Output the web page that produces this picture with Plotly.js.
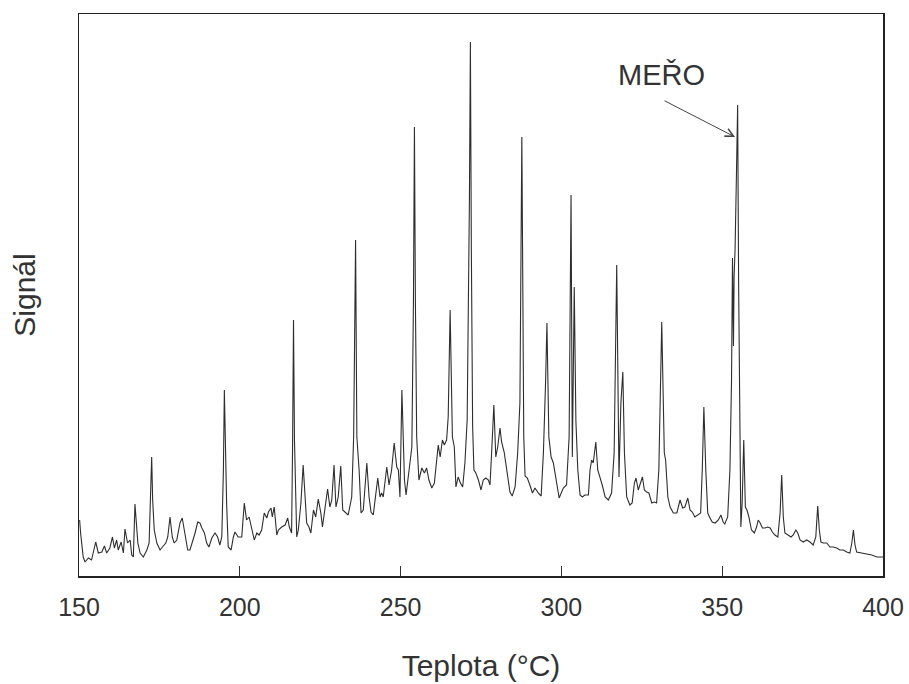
<!DOCTYPE html>
<html>
<head>
<meta charset="utf-8">
<script src="https://cdn.plot.ly/plotly-3.0.1.min.js"></script>
<style>html,body{margin:0;padding:0;background:#fff;}#chart{width:909px;height:684px;}</style>
</head>
<body>
<div id="chart"></div>
<script>
// Temperature (°C)
const temperature = [
150.2,150.5,151.3,151.9,152.9,153.9,155.2,156.0,157.1,157.9,158.6,159.6,160.4,161.0,161.7,162.2,163.1,163.8,164.3,165.1,
165.9,166.4,166.9,167.4,168.3,169.0,170.0,171.1,171.8,172.3,172.6,172.9,173.4,174.2,175.2,176.2,177.0,177.6,178.3,179.0,
179.6,180.4,181.4,182.1,183.0,183.8,184.5,185.2,186.1,186.9,187.6,188.2,189.0,189.7,190.4,191.3,192.3,193.1,193.8,194.4,
194.9,195.2,195.5,195.9,196.4,197.3,198.0,198.5,199.5,200.6,201.4,202.1,202.9,203.7,204.5,205.3,206.0,206.8,207.6,208.4,
208.9,209.7,210.1,210.7,211.5,212.0,213.0,214.1,214.9,215.4,216.1,216.4,216.7,217.0,217.7,218.2,219.0,219.7,220.3,220.8,
221.5,222.1,222.9,223.6,224.4,225.2,225.7,226.5,227.3,228.0,228.6,229.3,229.9,230.6,231.4,232.0,232.7,233.7,234.8,235.4,
236.0,236.4,237.1,237.7,238.4,239.5,240.2,240.8,241.5,242.0,242.9,243.6,244.1,244.6,245.7,246.4,247.2,248.0,248.8,249.3,
249.8,250.4,251.2,251.7,252.4,253.5,254.0,254.3,254.6,255.0,255.7,256.6,257.4,258.1,258.8,259.7,260.5,261.2,261.7,262.3,
263.0,263.6,264.3,264.8,265.4,266.1,266.7,267.2,267.9,268.6,269.3,270.0,270.7,271.4,271.7,272.0,272.4,272.8,273.4,274.2,
275.0,275.7,276.5,277.3,277.8,278.3,279.0,279.6,280.2,280.9,281.4,282.2,283.0,284.0,284.7,285.6,286.4,287.1,287.7,288.3,
288.7,289.4,290.2,291.0,291.8,292.8,293.7,294.4,295.1,295.5,296.1,296.8,297.5,298.2,299.3,300.6,301.6,302.4,303.0,303.4,
304.0,304.5,305.1,305.8,306.5,307.3,308.4,308.9,309.4,309.9,310.7,311.3,312.0,312.7,313.6,314.6,315.6,316.4,317.2,317.9,
318.5,319.1,319.6,320.3,321.3,322.0,322.7,323.2,323.9,324.5,325.2,325.8,326.5,327.2,328.1,328.9,329.6,330.3,331.2,332.0,
332.4,333.1,333.8,334.8,335.9,336.9,337.7,338.4,339.3,340.0,340.7,341.5,342.6,343.3,343.8,344.3,344.9,345.5,346.2,346.9,
347.8,348.8,349.6,350.3,350.8,351.7,352.4,352.9,353.2,353.5,353.7,354.0,354.4,354.8,355.1,355.4,355.8,356.2,356.7,357.2,357.7,
358.3,359.1,360.0,360.7,361.2,361.8,362.5,363.3,364.1,364.9,365.6,366.4,367.3,368.0,368.5,369.0,369.5,370.4,371.4,372.1,
372.9,373.5,374.2,375.2,376.3,377.3,378.3,379.1,379.7,380.2,380.7,381.4,382.5,383.5,384.5,385.6,386.6,387.7,388.7,389.7,
390.3,390.8,391.3,391.8,393.4,394.9,396.5,398.1,399.6,400.0
];

// Detector signal (arbitrary units)
const signal = [
56,43,19,14,18,16,34,23,24,30,23,28,39,28,36,26,34,23,47,33,
36,21,19,72,33,23,19,26,33,76,119,76,46,33,26,30,33,39,59,39,
33,36,53,58,39,26,26,33,43,54,53,48,43,33,29,38,43,39,31,39,
106,186,116,73,29,26,39,44,39,39,73,56,59,46,36,43,41,46,63,58,
64,68,59,69,41,46,49,51,58,49,43,126,256,136,39,46,73,111,73,53,
49,43,66,59,77,63,49,66,87,69,76,111,69,79,110,66,64,61,79,139,
336,139,106,63,66,113,79,64,61,73,98,79,83,79,109,91,106,133,109,106,
79,186,96,81,99,129,276,449,276,139,96,108,103,108,96,88,93,113,131,119,
136,131,136,159,266,139,129,89,99,93,89,113,156,376,534,326,149,106,103,96,
86,96,98,96,91,123,171,119,129,148,134,124,106,84,80,89,123,173,439,139,
100,98,91,83,88,83,80,123,196,253,139,119,113,99,78,88,91,139,381,119,
289,156,106,81,79,81,81,106,116,113,134,106,99,91,79,76,83,123,311,99,
173,204,123,79,71,73,93,98,86,93,99,86,84,83,73,74,73,106,254,123,
116,79,69,63,63,76,68,69,78,66,64,59,61,63,106,169,106,63,58,54,
53,56,61,54,52,59,106,196,318,230,300,326,396,471,296,146,49,73,136,69,66,
59,46,43,49,56,53,48,48,49,48,44,41,39,63,101,59,43,41,39,41,
46,43,36,34,36,34,31,39,70,46,34,33,33,29,29,28,26,26,24,23,
33,46,31,24,23,22,21,19,19,19
];

const xTickValues = [150, 200, 250, 300, 350, 400];
const xTickLabels = ["150", "200", "250", "300", "350", "400"];
const xTitle = "Teplota (°C)";
const yTitle = "Signál";
const peakLabel = "MEŘO";
const peakTemp = 354.0;
const peakSignal = 439;
const labelTemp = 331.0;
const labelSignal = 501;

const font = "Liberation Sans, Arial, sans-serif";

const trace = {
  x: temperature,
  y: signal,
  type: "scatter",
  mode: "lines",
  line: {color: "#2e2e2e", width: 1.1},
  hoverinfo: "x+y"
};

const layout = {
  width: 909,
  height: 684,
  margin: {l: 79, r: 26, t: 14, b: 108},
  paper_bgcolor: "#ffffff",
  plot_bgcolor: "#ffffff",
  showlegend: false,
  font: {family: font, color: "#333333"},
  xaxis: {
    range: [150, 400],
    tickvals: xTickValues,
    ticktext: xTickLabels,
    ticks: "inside",
    ticklen: 10,
    tickwidth: 1,
    tickcolor: "#333333",
    ticklabelstandoff: 8,
    showline: true,
    mirror: true,
    linecolor: "#222222",
    linewidth: 1.5,
    showgrid: false,
    zeroline: false,
    tickfont: {family: font, size: 25, color: "#333333"},
    title: {text: xTitle, font: {family: font, size: 30, color: "#333333"}, standoff: 35}
  },
  yaxis: {
    range: [0, 562],
    showticklabels: false,
    ticks: "",
    showline: true,
    mirror: true,
    linecolor: "#222222",
    linewidth: 1.5,
    showgrid: false,
    zeroline: false,
    title: {text: yTitle, font: {family: font, size: 30, color: "#333333"}, standoff: 33}
  },
  annotations: [
    {
      x: labelTemp, y: labelSignal, xref: "x", yref: "y",
      text: peakLabel, showarrow: false,
      font: {family: font, size: 29, color: "#333333"}
    },
    {
      x: peakTemp, y: peakSignal, xref: "x", yref: "y",
      text: "", showarrow: true,
      ax: -72, ay: -37,
      arrowhead: 5, arrowsize: 1.6, arrowwidth: 1, arrowcolor: "#444444"
    }
  ]
};

Plotly.newPlot("chart", [trace], layout, {displayModeBar: false, staticPlot: true});
</script>
</body>
</html>
